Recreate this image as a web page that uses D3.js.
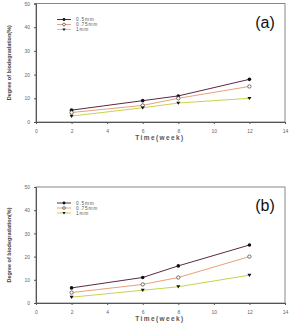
<!DOCTYPE html>
<html><head><meta charset="utf-8">
<script src="https://cdn.jsdelivr.net/npm/d3@7"></script>
<style>body{margin:0;background:#fff}svg{display:block}</style>
</head><body>
<svg id="c" width="290" height="323"></svg>
<script>
const weeks = [2, 6, 8, 12];
const seriesNames = ["0.5mm", "0.75mm", "1mm"];
const panelA = [
  [5, 9, 11, 18],
  [4, 7, 10, 15],
  [2.5, 6, 8, 10]
];
const panelB = [
  [6.5, 11, 16, 25],
  [4.5, 8, 11, 20],
  [2.5, 5.5, 7, 12]
];
const panelLabels = ["(a)", "(b)"];
const xTicks = [0, 2, 4, 6, 8, 10, 12, 14];
const yTicks = [0, 10, 20, 30, 40, 50];

const colors = ["#5a2a45", "#e9a07a", "#c9d34a"];
const svg = d3.select("#c");

function panel(data, label, top, bottom) {
  const left = 36, right = 285;
  const x = d3.scaleLinear().domain([0, 14]).range([left, right]);
  const y = d3.scaleLinear().domain([0, 50]).range([bottom, top]);
  const g = svg.append("g");
  g.append("rect").attr("x", left).attr("y", top).attr("width", right - left).attr("height", bottom - top)
    .attr("fill", "none").attr("stroke", "#888").attr("stroke-width", 1);
  const xa = g.append("g").attr("transform", `translate(0,${bottom})`)
    .call(d3.axisBottom(x).tickValues(xTicks).tickSize(2).tickPadding(5));
  const ya = g.append("g").attr("transform", `translate(${left},0)`)
    .call(d3.axisLeft(y).tickValues(yTicks).tickSize(2).tickPadding(4));
  [xa, ya].forEach(a => {
    a.select(".domain").attr("stroke", "#555");
    a.selectAll(".tick line").attr("stroke", "#555");
    a.selectAll("text").attr("font-family", "Arial, Liberation Sans, sans-serif").attr("font-size", 5).attr("fill", "#666");
  });
  g.append("text").attr("x", 160).attr("y", bottom + 18).attr("text-anchor", "middle")
    .attr("font-family", "Arial, Liberation Sans, sans-serif").attr("font-size", 6.5).attr("font-weight", "bold")
    .attr("letter-spacing", 1.4).attr("fill", "#555").text("Time(week)");
  g.append("text").attr("transform", `translate(11,${(top + bottom) / 2}) rotate(-90)`).attr("text-anchor", "middle")
    .attr("font-family", "Arial, Liberation Sans, sans-serif").attr("font-size", 5.5).attr("font-weight", "bold")
    .attr("fill", "#444").text("Degree of biodegradation(%)");
  const line = d3.line().x((d, i) => x(weeks[i])).y(d => y(d));
  data.forEach((s, k) => {
    g.append("path").attr("d", line(s)).attr("fill", "none").attr("stroke", colors[k]).attr("stroke-width", 1);
  });
  data.forEach((s, k) => {
    s.forEach((v, i) => marker(g, k, x(weeks[i]), y(v)));
  });
  seriesNames.forEach((n, k) => {
    const ly = top + 16 + k * 5;
    g.append("line").attr("x1", 57).attr("x2", 71).attr("y1", ly).attr("y2", ly).attr("stroke", colors[k]).attr("stroke-width", 1);
    marker(g, k, 64, ly, 0.8);
    g.append("text").attr("x", 76).attr("y", ly + 1.6).attr("font-family", "Arial, Liberation Sans, sans-serif")
      .attr("font-size", 4.8).attr("letter-spacing", 0.8).attr("fill", "#555").text(n);
  });
  g.append("text").attr("x", 265).attr("y", top + 24).attr("text-anchor", "middle")
    .attr("font-family", "Arial, Liberation Sans, sans-serif").attr("font-size", 16).attr("fill", "#111").text(label);
}

function marker(g, k, cx, cy, s = 1) {
  if (k === 0) g.append("circle").attr("cx", cx).attr("cy", cy).attr("r", 1.8 * s).attr("fill", "#111");
  else if (k === 1) g.append("circle").attr("cx", cx).attr("cy", cy).attr("r", 1.7 * s).attr("fill", "#fff").attr("stroke", "#222").attr("stroke-width", 0.6);
  else {
    const r = 2 * s;
    g.append("path").attr("d", `M${cx - r},${cy - r * 0.7}L${cx + r},${cy - r * 0.7}L${cx},${cy + r * 0.9}Z`).attr("fill", "#111");
  }
}

panel(panelA, panelLabels[0], 3.5, 122);
panel(panelB, panelLabels[1], 187, 303);
</script>
</body></html>
